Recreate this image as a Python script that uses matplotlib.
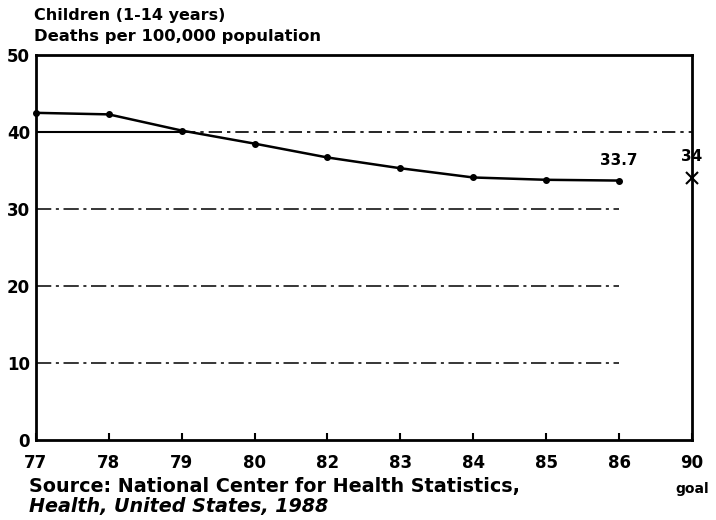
import matplotlib
matplotlib.use("Agg")
import matplotlib.pyplot as plt
import numpy as np

years = ["77", "78", "79", "80", "82", "83", "84", "85", "86"]
deaths = [42.5, 42.3, 40.2, 38.5, 36.7, 35.3, 34.1, 33.8, 33.7]
goal_year = "90"
goal_value = 34
yticks = [0, 10, 20, 30, 40, 50]

plt.rcParams['font.family'] = ['DejaVu Sans']
plt.rcParams['font.weight'] = 'bold'

fig = plt.figure(figsize=(7.16, 5.2), dpi=100)
ax = fig.add_axes([0.050, 0.154, 0.9165, 0.740])

xlabels = years + [goal_year]
xpos = np.arange(len(xlabels))
ax.set_xlim(0, len(xlabels) - 1)
ax.set_ylim(0, 50)

# grid lines
ax.plot([0, 2], [40, 40], color='black', lw=1.5, zorder=1)
ax.plot([2, 9], [40, 40], color='black', lw=1.2, ls=(0, (8, 3, 2, 3)), zorder=1)
for g in [10, 20, 30]:
    ax.plot([0, 8], [g, g], color='black', lw=1.1, ls=(0, (10, 3, 2, 3)), zorder=1)

ax.plot(xpos[:len(years)], deaths, color='black', lw=1.8, marker='o', ms=4, zorder=3, clip_on=False)
ax.plot([xpos[-1]], [goal_value], marker='x', color='black', ms=8, mew=1.5, zorder=4, clip_on=False)

ax.text(xpos[len(years) - 1], deaths[-1] + 1.6, "33.7", ha='center', va='bottom', fontsize=11, fontweight='bold')
ax.text(xpos[-1], goal_value + 1.8, "34", ha='center', va='bottom', fontsize=11, fontweight='bold')

ax.set_xticks(xpos)
ax.set_xticklabels(xlabels, fontsize=12, fontweight='bold')
ax.set_yticks(yticks)
ax.set_yticklabels([str(v) for v in yticks], fontsize=12, fontweight='bold')
ax.tick_params(axis='x', direction='in', length=5, width=1.5, pad=10)
ax.tick_params(axis='y', length=0, pad=4)
ax.text(xpos[-1], -0.11, "goal", transform=ax.get_xaxis_transform(), ha='center', va='top',
        fontsize=10, fontweight='bold')

for s in ax.spines.values():
    s.set_linewidth(2)

fig.text(0.047, 0.970, "Children (1-14 years)", fontsize=11.5, fontweight='bold', ha='left', va='center')
fig.text(0.047, 0.929, "Deaths per 100,000 population", fontsize=11.8, fontweight='bold', ha='left', va='center')
fig.text(0.040, 0.064, "Source: National Center for Health Statistics,", fontsize=13.8, fontweight='bold', ha='left', va='center')
fig.text(0.040, 0.026, "Health, United States, 1988", fontsize=13.8, fontweight='bold', style='italic', ha='left', va='center')

fig.savefig("out.png", dpi=100)
